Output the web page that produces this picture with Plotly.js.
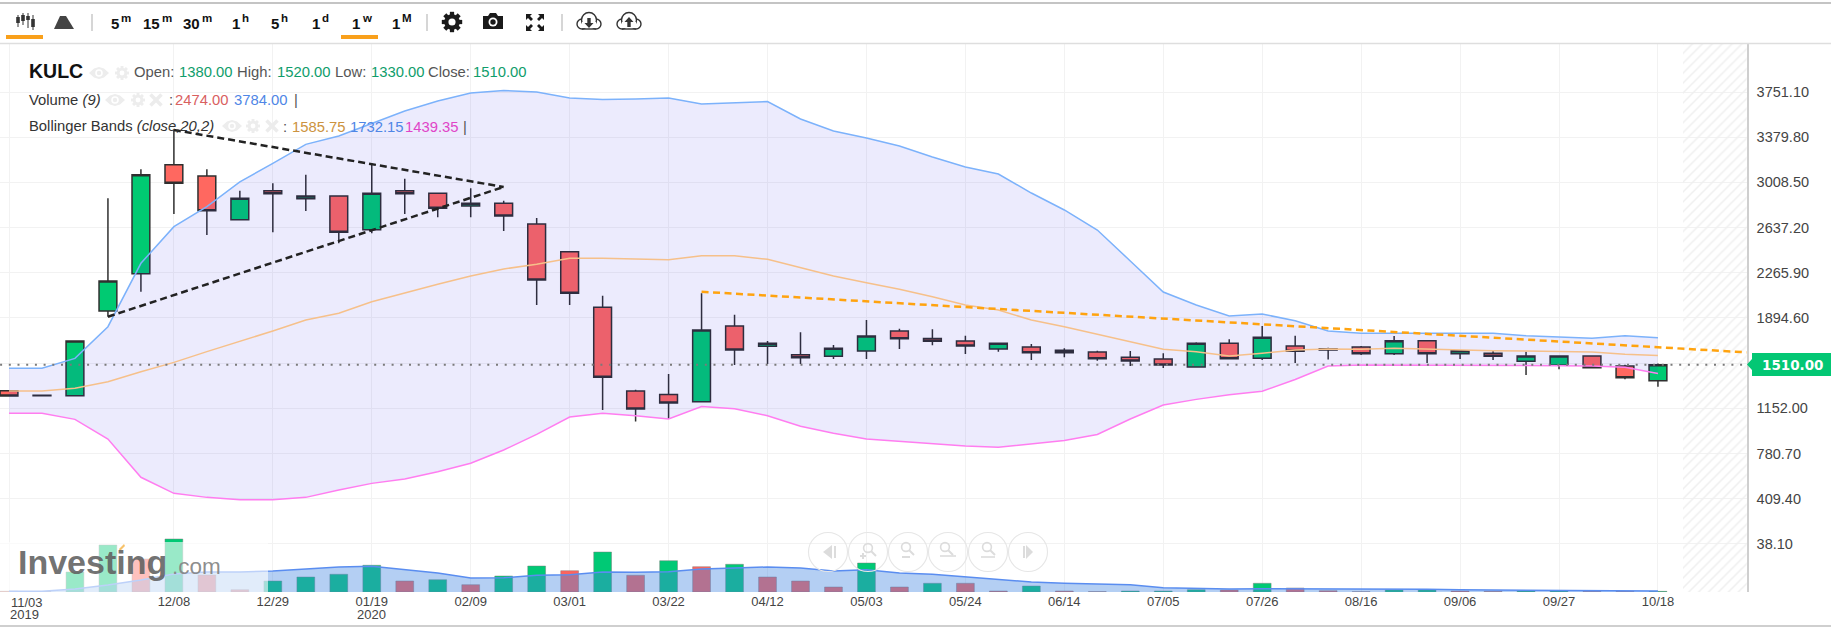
<!DOCTYPE html>
<html>
<head>
<meta charset="utf-8">
<script src="https://cdn.plot.ly/plotly-3.0.1.min.js"></script>
<style>html,body{margin:0;padding:0;background:#fff;overflow:hidden}#c{width:1831px;height:627px}</style>
</head>
<body>
<div id="c"></div>
<script>
var open_ = [1297,1260,1255,1952,2258,3154,3061,2702,2940,2875,2897,2620,2940,2919,2815,2837,2667,2439,1982,1295,1266,1207,1829,1662,1593,1580,1623,1788,1727,1706,1640,1656,1609,1615,1572,1558,1492,1687,1563,1664,1642,1656,1601,1708,1601,1605,1539,1506,1582,1500,1380];
var close_ = [1254,1255,1705,2198,3072,3001,2776,2878,2916,2897,2599,2919,2916,2796,2837,2732,2207,2097,1407,1147,1196,1796,1632,1687,1568,1646,1747,1724,1703,1664,1687,1609,1629,1560,1542,1508,1687,1560,1736,1621,1631,1601,1708,1601,1626,1580,1582,1582,1486,1404,1510];
var high_ = [1297,1260,1705,2878,3116,3439,3116,2940,3001,3072,2897,3165,3039,2919,2960,2857,2716,2439,2078,1305,1434,2097,1922,1706,1777,1673,1878,1807,1802,1749,1687,1681,1646,1626,1623,1605,1695,1720,1829,1749,1650,1665,1746,1708,1626,1632,1617,1582,1582,1510,1520];
var low_ = [1254,1255,1255,1905,2110,2749,2576,2702,2599,2773,2508,2590,2749,2722,2722,2609,2001,2001,1139,1044,1065,1207,1508,1517,1517,1558,1558,1640,1670,1599,1617,1549,1572,1544,1500,1484,1485,1560,1549,1525,1553,1590,1590,1525,1558,1549,1426,1473,1480,1391,1330];
var bbUpper = [1481,1481,1563,1823,2344,2645,2809,3012,3165,3321,3390,3494,3595,3677,3743,3763,3751,3702,3690,3694,3702,3653,3661,3672,3529,3431,3373,3307,3217,3135,3077,2921,2782,2617,2363,2108,2001,1911,1927,1872,1788,1769,1769,1769,1769,1769,1749,1738,1728,1749,1732.15];
var bbMid = [1295,1295,1317,1371,1453,1530,1618,1700,1788,1878,1933,2028,2102,2171,2239,2297,2336,2385,2385,2382,2373,2406,2406,2377,2311,2239,2184,2130,2069,2001,1960,1878,1823,1761,1695,1637,1618,1582,1604,1632,1640,1637,1645,1637,1632,1626,1623,1618,1615,1596,1585.75];
var bbLower = [1111,1111,1062,900,586,454,421,402,402,421,481,536,572,632,701,810,938,1081,1111,1092,1065,1168,1149,1092,1006,948,900,880,862,843,832,859,888,938,1065,1180,1226,1264,1293,1389,1500,1508,1508,1504,1506,1506,1506,1503,1500,1489,1439.35];
var volume = [2700,1900,76000,178600,125400,201400,64600,8700,41800,57000,67300,101500,41800,46700,27700,60800,98800,80900,152000,63500,118900,96100,105300,57000,41800,19000,110200,19000,33100,33100,3800,22800,3800,1500,3800,3800,8700,7600,33100,15200,4900,1100,7600,7600,3800,2700,3800,3800,2700,2700,2474];
var volumeUp = [0,0,1,1,0,1,0,0,1,1,1,1,0,1,0,1,1,0,1,0,1,0,1,0,0,0,1,0,1,0,0,1,0,0,1,1,1,0,1,0,0,0,1,1,0,0,1,1,0,0,1];
var volumeMA = [2700,2700,11400,26600,45600,68400,76000,76000,79800,86300,95000,97700,83600,72200,53200,54300,63500,65700,76000,74900,77100,87400,91200,95000,91200,79800,84700,72200,67300,57000,48300,38000,33100,29300,27700,16300,14100,11400,12500,12500,11400,11400,10300,10300,8700,7600,6800,6100,5300,4500,3784];
var dateTicks = [0,5,8,11,14,17,20,23,26,29,32,35,38,41,44,47,50];
var dateLabels = ['','12/08','12/29','01/19','02/09','03/01','03/22','04/12','05/03','05/24','06/14','07/05','07/26','08/16','09/06','09/27','10/18'];
var priceTicks = [38.1,409.4,780.7,1152,1523.3,1894.6,2265.9,2637.2,3008.5,3379.8,3751.1];
var priceLabels = ['38.10','409.40','780.70','1152.00','','1894.60','2265.90','2637.20','3008.50','3379.80','3751.10'];
var lastPrice = 1510;
var wedgeUpperX = [5,15], wedgeUpperY = [3439,2971];
var wedgeLowerX = [3,15], wedgeLowerY = [1905,2971];
var resistX = [21,52.69], resistY = [2110,1612];

var W = 1831, H = 627, FONT = 'Liberation Sans, Arial, sans-serif';
var idx = open_.map(function(_, i){ return i; });
function px(x){ return x / W; }
function py(y){ return 1 - y / H; }
function path(pts, close){
  return pts.map(function(p, i){ return (i ? 'L' : 'M') + px(p[0]) + ',' + py(p[1]); }).join(' ') + (close ? ' Z' : '');
}
var shapes = [], anns = [];
function line(x0,y0,x1,y1,color,w,layer){
  shapes.push({type:'line',xref:'paper',yref:'paper',x0:px(x0),y0:py(y0),x1:px(x1),y1:py(y1),line:{color:color,width:w},layer:layer||'above'});
}
function rect(x0,y0,x1,y1,fill,opacity){
  shapes.push({type:'rect',xref:'paper',yref:'paper',x0:px(x0),y0:py(y0),x1:px(x1),y1:py(y1),fillcolor:fill,opacity:opacity==null?1:opacity,line:{width:0},layer:'above'});
}
function poly(pts,fill,stroke,w){
  shapes.push({type:'path',xref:'paper',yref:'paper',path:path(pts,true),fillcolor:fill||'rgba(0,0,0,0)',line:{color:stroke||'rgba(0,0,0,0)',width:w||0},layer:'above'});
}
function circle(cx,cy,r,fill,stroke,w){
  shapes.push({type:'circle',xref:'paper',yref:'paper',x0:px(cx-r),y0:py(cy+r),x1:px(cx+r),y1:py(cy-r),fillcolor:fill||'rgba(0,0,0,0)',line:{color:stroke||'rgba(0,0,0,0)',width:w||0},layer:'above'});
}
function text(t,x,y,size,color,anchor,extra){
  var a = {text:t,xref:'paper',yref:'paper',x:px(x),y:py(y),xanchor:anchor||'left',yanchor:'middle',showarrow:false,borderpad:0,font:{family:FONT,size:size,color:color}};
  if(extra){ for(var k in extra) a[k]=extra[k]; }
  anns.push(a);
}

// chrome
line(0,3,W,3,'#c4c4c4',2);
line(0,43.5,W,43.5,'#dedede',1.5);
line(0,626,W,626,'#cfcfcf',2);
rect(6,35,43,39,'#f9a01b');
rect(341,35,378,39,'#f9a01b');
[92,427,562].forEach(function(x){ line(x,14,x,31,'#c9c9c9',1.5); });
[[119,'5','m'],[160,'15','m'],[200,'30','m'],[240,'1','h'],[279,'5','h'],[320,'1','d'],[360,'1','w'],[400,'1','M']].forEach(function(b){
  text('<b>'+b[1]+'</b>',b[0]+1,24,15,'#111','right');
  text('<b>'+b[2]+'</b>',b[0]+1,18.5,11.5,'#111','left');
});
// candlestick icon
[[18,17,23,15,27],[23,15,21,13,25],[28,16,20,13,28],[33,19,27,15,30]].forEach(function(c){
  line(c[0],c[3],c[0],c[4],'#333',1);
  rect(c[0]-1.8,c[1],c[0]+1.8,c[2],'#333');
});
poly([[54,29],[60,16],[66,16],[74,29]],'#444');
// solid gear drawn from teeth and a ring
function gearIcon(cx,cy,r,color,hole){
  for(var a=0;a<8;a++){
    var t=a*Math.PI/4, c=Math.cos(t), s=Math.sin(t);
    line(cx+c*r*0.55,cy+s*r*0.55,cx+c*r*1.2,cy+s*r*1.2,color,r*0.5);
  }
  circle(cx,cy,r*0.92,color);
  circle(cx,cy,r*0.42,hole);
}
gearIcon(452,22,8.5,'#1a1a1a','#fff');
// camera
poly([[483,16],[488,16],[490,13],[496,13],[498,16],[503,16],[503,29],[483,29]],'#1a1a1a');
circle(493,22,4.5,'#fff');
circle(493,22,2.7,'#1a1a1a');
// expand
[[526,14,1,1],[544,14,-1,1],[526,31,1,-1],[544,31,-1,-1]].forEach(function(c){
  poly([[c[0],c[1]],[c[0]+6*c[2],c[1]],[c[0]+4*c[2],c[1]+2*c[3]],[c[0]+7*c[2],c[1]+5*c[3]],[c[0]+5*c[2],c[1]+7*c[3]],[c[0]+2*c[2],c[1]+4*c[3]],[c[0],c[1]+6*c[3]]],'#1a1a1a');
});
// clouds
function cloud(cx,up){
  circle(cx-7,24,5,'#fff','#333',1.4);
  circle(cx+7,24,5,'#fff','#333',1.4);
  circle(cx,20,7.5,'#fff','#333',1.4);
  rect(cx-7,22,cx+7,28.2,'#fff');
  line(cx-7,29,cx+7,29,'#333',1.4);
  if(up){ poly([[cx,17],[cx+4.5,22],[cx+1.7,22],[cx+1.7,27],[cx-1.7,27],[cx-1.7,22],[cx-4.5,22]],'#333'); }
  else { poly([[cx,28],[cx+4.5,23],[cx+1.7,23],[cx+1.7,18],[cx-1.7,18],[cx-1.7,23],[cx-4.5,23]],'#333'); }
}
cloud(589,false); cloud(629,true);

// header legends
var G='#0f9d6b', L='#555', S=14.8;
text('<b>KULC</b>',28,71,19.5,'#111');
text('Open:',133,72,S,L); text('1380.00',178,72,S,G);
text('High:',236,72,S,L); text('1520.00',275.5,72,S,G);
text('Low:',334,72,S,L); text('1330.00',370,72,S,G);
text('Close:',427,72,S,L); text('1510.00',472,72,S,G);
text('Volume <i>(9)</i>',28,100,S,'#333');
text(':',168,100,S,'#555'); text('2474.00',174,100,S,'#d9605f'); text('3784.00',233,100,S,'#4f86e6'); text('|',293,100,S,'#555');
text('Bollinger Bands <i>(close,20,2)</i>',28,126,S,'#333');
text(':',282,127,S,'#555'); text('1585.75',291,127,S,'#cc9340'); text('1732.15',349,127,S,'#4f86e6'); text('1439.35',404,127,S,'#e045c8'); text('|',462,127,S,'#555');
function eye(cx,cy){
  poly([[cx-10,cy],[cx-5,cy-4.5],[cx,cy-6],[cx+5,cy-4.5],[cx+10,cy],[cx+5,cy+4.5],[cx,cy+6],[cx-5,cy+4.5]],'#ededed');
  circle(cx,cy,3.8,'#fff'); circle(cx,cy,2.2,'#ededed');
}
function cross(cx,cy){ line(cx-5.5,cy-5.5,cx+5.5,cy+5.5,'#ececec',3.5); line(cx-5.5,cy+5.5,cx+5.5,cy-5.5,'#ececec',3.5); }
eye(99,73); gearIcon(122,73,5.8,'#ededed','#fff');
eye(115,100); gearIcon(138,100,5.8,'#ededed','#fff'); cross(156,100);
eye(232,126); gearIcon(253,126,5.8,'#ededed','#fff'); cross(272,126);

// volume pane watermark veil
rect(0,542,268,592,'#fff',0.6);
text('<b>Investing</b>',17,562,34,'rgba(95,95,95,0.9)');
text('.com',171,566,22.5,'rgba(135,135,135,0.95)');
poly([[119,549],[124,544],[125,546],[120,551]],'#f7c26a');

// navigation circles
[828,868,908,948,988,1028].forEach(function(cx){ circle(cx,552,19.5,null,'#e6e6e6',1.1); });
poly([[823,552],[832,545],[832,559]],'#dcdcdc');
rect(834,546,836,558,'#dcdcdc');
poly([[1033,552],[1026,545],[1026,559]],'#dcdcdc');
rect(1023,546,1025,558,'#dcdcdc');
function lens(cx,cy){ circle(cx,cy,4.4,null,'#dcdcdc',1.6); line(cx+3,cy+3,cx+8,cy+8,'#dcdcdc',2); }
lens(868,548); line(860,556,866,556,'#dcdcdc',2); line(863,553,863,559,'#dcdcdc',2);
lens(906,547); line(902,557,910,557,'#dcdcdc',2);
lens(945,547); line(940,556,956,556,'#dcdcdc',1.6);
lens(987,547); line(981,557,995,557,'#dcdcdc',1.6);

// last price tag
poly([[1747,364.5],[1752,359],[1752,353],[1831,353],[1831,376],[1752,376],[1752,370]],'#03c774');
text('<b>1510.00</b>',1793,365,14.5,'#fff','center',{font:{family:'DejaVu Sans',size:13.5,color:'#fff'}});

// date labels that sit apart from the ticks
function dateNote(t,i,y,anchor,dx){
  anns.push({text:t,xref:'x',yref:'paper',x:i,y:py(y),xanchor:anchor,xshift:dx||0,yanchor:'middle',showarrow:false,borderpad:0,font:{family:FONT,size:13,color:'#444'}});
}
dateNote('11/03',0,602.5,'left',1);
dateNote('2019',0,614.5,'left',0);
dateNote('2020',11,614.5,'center',0);

var traces = [
  {type:'bar',x:[51.72],y:[4505.9],base:[-356.4],width:[1.94],xaxis:'x',yaxis:'y',hoverinfo:'skip',
   marker:{color:'rgba(0,0,0,0)',line:{width:0},pattern:{shape:'/',fgcolor:'#efefef',bgcolor:'rgba(255,255,255,0)',size:7,solidity:0.22}}},
  {type:'candlestick',x:idx,open:open_,high:high_,low:low_,close:close_,xaxis:'x',yaxis:'y',hoverinfo:'skip',
   increasing:{line:{color:'#2f2f2f',width:1.5},fillcolor:'#00ca72'},
   decreasing:{line:{color:'#2f2f2f',width:1.5},fillcolor:'#ff6860'},whiskerwidth:0},
  {type:'scatter',mode:'lines',x:idx,y:bbUpper,line:{color:'#7cb2fb',width:1.5},xaxis:'x',yaxis:'y',hoverinfo:'skip'},
  {type:'scatter',mode:'lines',x:idx,y:bbLower,line:{color:'#ff7df0',width:1.5},fill:'tonexty',fillcolor:'rgba(44,33,233,0.09)',xaxis:'x',yaxis:'y',hoverinfo:'skip'},
  {type:'scatter',mode:'lines',x:idx,y:bbMid,line:{color:'#f6c08a',width:1.5},xaxis:'x',yaxis:'y',hoverinfo:'skip'},
  {type:'scatter',mode:'lines',x:[-0.27,52.69],y:[lastPrice,lastPrice],line:{color:'#7a7a7a',width:2,dash:'2px,6.7px'},xaxis:'x',yaxis:'y',hoverinfo:'skip'},
  {type:'scatter',mode:'lines',x:wedgeUpperX,y:wedgeUpperY,line:{color:'#222',width:2.5,dash:'7px,4px'},xaxis:'x',yaxis:'y',hoverinfo:'skip'},
  {type:'scatter',mode:'lines',x:wedgeLowerX,y:wedgeLowerY,line:{color:'#222',width:2.5,dash:'7px,4px'},xaxis:'x',yaxis:'y',hoverinfo:'skip'},
  {type:'scatter',mode:'lines',x:resistX,y:resistY,line:{color:'#ffa30f',width:2.5,dash:'7px,4.5px'},xaxis:'x',yaxis:'y',hoverinfo:'skip'},
  {type:'bar',x:idx,y:volume,width:0.54,xaxis:'x',yaxis:'y2',hoverinfo:'skip',
   marker:{color:volumeUp.map(function(u){ return u ? '#00c975' : '#fd645d'; }),line:{color:'rgba(120,120,120,0.45)',width:1}}},
  {type:'scatter',mode:'lines',x:idx,y:volumeMA,fill:'tozeroy',fillcolor:'rgba(67,135,225,0.4)',line:{color:'#5a8df0',width:1.5},xaxis:'x',yaxis:'y2',hoverinfo:'skip'}
];

var layout = {
  width:W,height:H,margin:{l:0,r:0,t:0,b:0,pad:0},paper_bgcolor:'#fff',plot_bgcolor:'#fff',
  showlegend:false,boxgap:0.46,boxgroupgap:0,bargap:0,barmode:'overlay',
  font:{family:FONT},
  xaxis:{domain:[0,1746.7/W],range:[-0.2729,52.691],type:'linear',tickmode:'array',tickvals:dateTicks,ticktext:dateLabels,
    showgrid:true,gridcolor:'#f2f2f2',gridwidth:1,zeroline:false,showline:false,ticks:'',
    tickfont:{family:FONT,size:13,color:'#444'},rangeslider:{visible:false},fixedrange:true},
  yaxis:{domain:[1-592/H,1-43.5/H],range:[-356.4,4149.5],side:'right',anchor:'x',tickmode:'array',tickvals:priceTicks,ticktext:priceLabels,
    showgrid:true,gridcolor:'#f2f2f2',gridwidth:1,zeroline:false,showline:true,linecolor:'#cfcfcf',linewidth:2,ticks:'',ticklabelstandoff:5,
    tickfont:{family:FONT,size:14.5,color:'#444'},fixedrange:true},
  yaxis2:{domain:[1-592/H,1-43.5/H],range:[0,2084300],overlaying:'y',side:'right',anchor:'x',visible:false,showgrid:false,zeroline:false,fixedrange:true},
  shapes:shapes,annotations:anns
};
Plotly.newPlot('c',traces,layout,{displayModeBar:false,staticPlot:true});
</script>
</body>
</html>
